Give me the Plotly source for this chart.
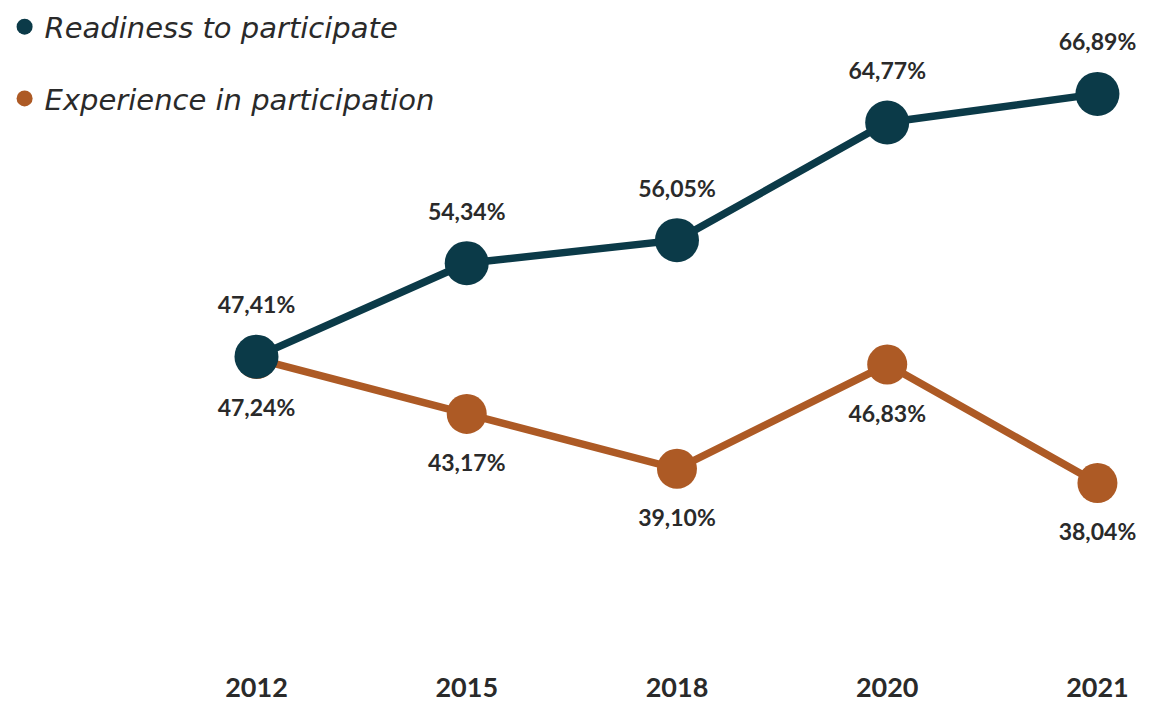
import plotly.graph_objects as go

years = ["2012", "2015", "2018", "2020", "2021"]
readiness = [47.41, 54.34, 56.05, 64.77, 66.89]
experience = [47.24, 43.17, 39.10, 46.83, 38.04]
series_names = ["Readiness to participate", "Experience in participation"]

TEAL = "#0B3A48"
ORANGE = "#AD5A25"
TEXT = "#2A2A2A"
FONT = "Lato"


def fmt(v):
    return f"{v:.2f}".replace(".", ",") + "%"


fig = go.Figure()

# main lines (orange below teal)
fig.add_trace(go.Scatter(
    x=years, y=experience, mode="lines+markers", showlegend=False,
    line=dict(color=ORANGE, width=7.5),
    marker=dict(color=ORANGE, size=40),
    hoverinfo="skip",
))
fig.add_trace(go.Scatter(
    x=years, y=readiness, mode="lines+markers", showlegend=False,
    line=dict(color=TEAL, width=7.5),
    marker=dict(color=TEAL, size=44),
    hoverinfo="skip",
))

# value labels
fig.add_trace(go.Scatter(
    x=years, y=readiness, mode="markers+text", showlegend=False,
    marker=dict(size=59, opacity=0),
    text=[fmt(v) for v in readiness], textposition="top center",
    textfont=dict(family=FONT, size=23, color=TEXT, weight="bold"),
    hoverinfo="skip", cliponaxis=False,
))
fig.add_trace(go.Scatter(
    x=years, y=experience, mode="markers+text", showlegend=False,
    marker=dict(size=62, opacity=0),
    text=[fmt(v) for v in experience], textposition="bottom center",
    textfont=dict(family=FONT, size=23, color=TEXT, weight="bold"),
    hoverinfo="skip", cliponaxis=False,
))

# legend entries
fig.add_trace(go.Scatter(
    x=[None], y=[None], mode="markers", name=series_names[0],
    legendgroup="a", legendrank=1, marker=dict(color=TEAL, size=22),
))
fig.add_trace(go.Scatter(
    x=[None], y=[None], mode="markers", name=series_names[1],
    legendgroup="b", legendrank=2, marker=dict(color=ORANGE, size=22),
))

fig.update_layout(
    template="none",
    width=1150, height=706,
    margin=dict(l=0, r=0, t=0, b=37),
    paper_bgcolor="white", plot_bgcolor="white",
    font=dict(family=FONT, color=TEXT),
    showlegend=True,
    legend=dict(x=0.004, y=0.998, xanchor="left", yanchor="top",
                font=dict(family="DejaVu Sans", size=29, color=TEXT, style="italic", weight=300),
                tracegroupgap=31, bgcolor="rgba(0,0,0,0)", borderwidth=0),
    xaxis=dict(type="category", range=[-1.22, 4.25], showgrid=False, zeroline=False,
               showline=False, ticks="", automargin=False,
               tickfont=dict(family=FONT, size=27, color=TEXT, weight="bold")),
    yaxis=dict(range=[24.26, 73.85], visible=False, showgrid=False, zeroline=False,
               automargin=False),
)

fig.write_html("out.html", config={"displayModeBar": False},
               post_script="document.body.style.margin='0';")
